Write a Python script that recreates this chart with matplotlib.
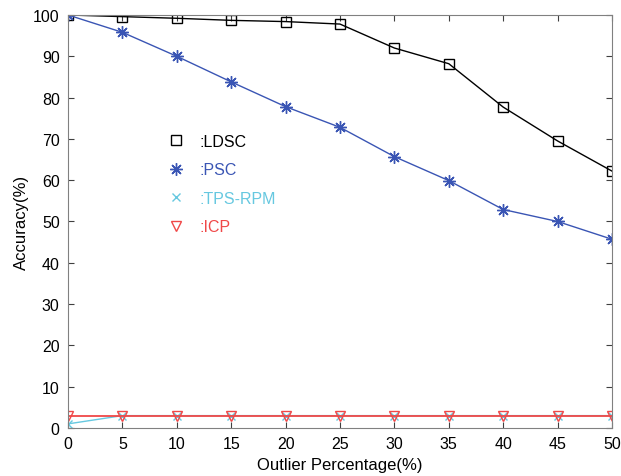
import matplotlib
matplotlib.use('Agg')
import matplotlib.pyplot as plt

plt.rcParams['font.family'] = ['Liberation Sans', 'DejaVu Sans']

outliers = [0, 5, 10, 15, 20, 25, 30, 35, 40, 45, 50]
ldsc = [100, 99.6, 99.2, 98.7, 98.4, 97.8, 92.0, 88.2, 77.7, 69.5, 62.2]
psc = [100, 95.8, 90.0, 83.8, 77.8, 72.8, 65.7, 59.9, 52.9, 50.0, 45.7]
tps_rpm = [1, 3, 3, 3, 3, 3, 3, 3, 3, 3, 3]
icp = [3, 3, 3, 3, 3, 3, 3, 3, 3, 3, 3]

fig = plt.figure(figsize=(6.21, 4.77), dpi=100)
ax = fig.add_axes([0.1095, 0.1006, 0.876, 0.8659])

ax.plot(outliers, ldsc, color='black', lw=1, marker='s', ms=6.5,
        mfc='none', mew=1, label=':LDSC')
ax.plot(outliers, psc, color='#3a55b4', lw=1, marker=(8, 2, 0), ms=9,
        mew=1, label=':PSC')
ax.plot(outliers, tps_rpm, color='#66c8e0', lw=1, marker='x', ms=6,
        mew=1, label=':TPS-RPM')
ax.plot(outliers, icp, color='#f04848', lw=1.3, marker='v', ms=7.5,
        mfc='none', mew=1, label=':ICP')

ax.set_xlim(0, 50)
ax.set_ylim(0, 100)
ax.set_xticks(outliers)
ax.set_yticks(range(0, 101, 10))
ax.tick_params(direction='in', top=True, right=True, labelsize=11.5,
               color='#404040', length=4, pad=6)
for s in ax.spines.values():
    s.set_color('#808080')
ax.set_xlabel('Outlier Percentage(%)', fontsize=12, labelpad=4)
ax.set_ylabel('Accuracy(%)', fontsize=12, labelpad=3)

leg = ax.legend(loc='upper left', bbox_to_anchor=(0.175, 0.728), frameon=False,
                handlelength=0.8, handletextpad=1.1, labelspacing=0.85,
                fontsize=11.5, labelcolor='linecolor', borderaxespad=0)
for h in leg.legend_handles:
    h.set_linestyle('none')

fig.savefig('out.png', dpi=100)
